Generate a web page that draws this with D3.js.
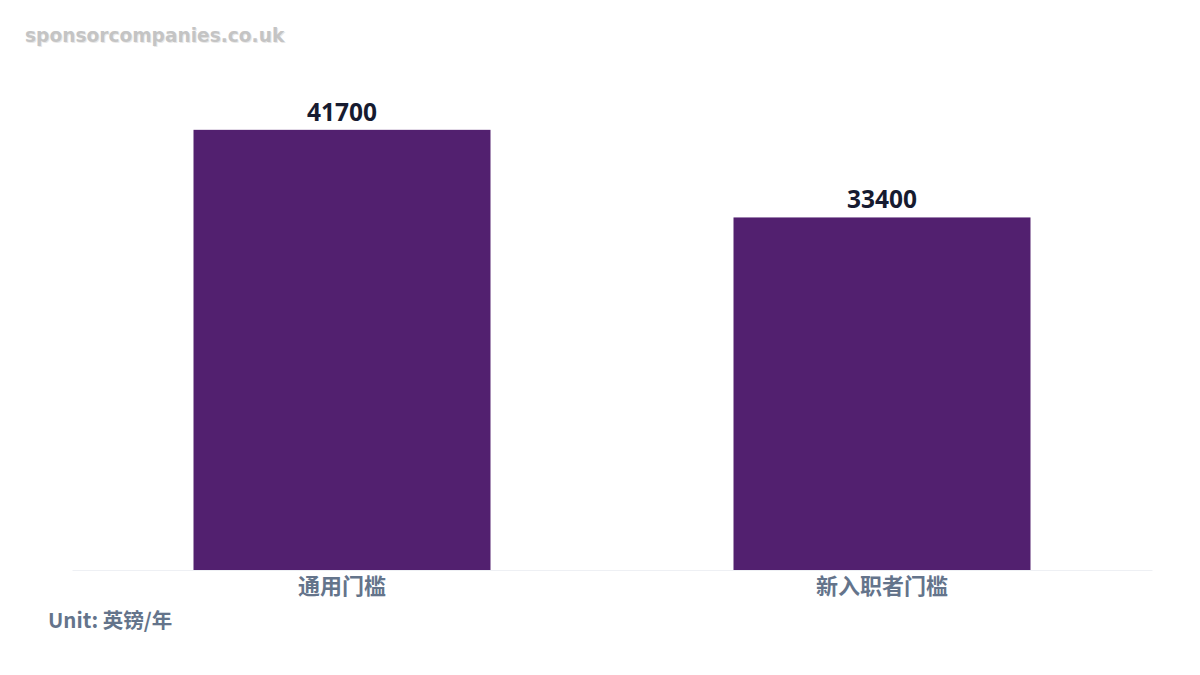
<!DOCTYPE html>
<html>
<head>
<meta charset="utf-8">
<script src="https://cdn.jsdelivr.net/npm/d3@7"></script>
<style>
  body { margin: 0; background: #fff; }
  svg { display: block; }
</style>
</head>
<body>
<div id="chart"></div>
<script>
var categories = ["通用门槛", "新入职者门槛"];
var values = [41700, 33400];
var unitLabel = "Unit: 英镑/年";
var watermark = "sponsorcompanies.co.uk";

function drawChart() {
    var width = 1200, height = 675;
    var margin = {top: 95, right: 48, bottom: 105, left: 72};
    var innerW = width - margin.left - margin.right;
    var innerH = height - margin.top - margin.bottom;

    var svg = d3.select('#chart')
        .append('svg')
        .attr('width', width)
        .attr('height', height);

    // watermark with a soft shadow
    svg.append('text')
        .attr('x', 26).attr('y', 43)
        .attr('font-family', 'DejaVu Sans, sans-serif')
        .attr('font-weight', 'bold')
        .attr('font-size', 18.6)
        .attr('fill', '#e8e8e8')
        .text(watermark);
    svg.append('text')
        .attr('x', 25).attr('y', 42)
        .attr('font-family', 'DejaVu Sans, sans-serif')
        .attr('font-weight', 'bold')
        .attr('font-size', 18.6)
        .attr('fill', '#c4c4c4')
        .text(watermark);

    var g = svg.append('g')
        .attr('transform', 'translate(' + margin.left + ',' + margin.top + ')');

    var x = d3.scaleBand()
        .domain(categories)
        .range([0, innerW])
        .paddingInner(0.45)
        .paddingOuter(0.225);

    var y = d3.scaleLinear()
        .domain([0, 45000])
        .range([innerH, 0]);

    var xAxis = d3.axisBottom(x).tickSize(0).tickPadding(8);

    var ax = g.append('g')
        .attr('class', 'x axis')
        .attr('transform', 'translate(0,' + innerH + ')')
        .call(xAxis);
    ax.select('.domain').attr('stroke', '#eef0f4').attr('stroke-width', 1);
    ax.selectAll('text')
        .attr('font-family', '"Noto Sans CJK SC", "Noto Sans", sans-serif')
        .attr('font-weight', 'bold')
        .attr('font-size', 22)
        .attr('fill', '#64748b');

    g.selectAll('.bar')
        .data(values)
        .enter().append('rect')
        .attr('class', 'bar')
        .attr('x', function(d, i) { return x(categories[i]); })
        .attr('y', function(d) { return y(d); })
        .attr('width', x.bandwidth())
        .attr('height', function(d) { return innerH - y(d); })
        .attr('fill', '#52206f');

    g.selectAll('.val')
        .data(values)
        .enter().append('text')
        .attr('class', 'val')
        .attr('x', function(d, i) { return x(categories[i]) + x.bandwidth() / 2; })
        .attr('y', function(d) { return y(d) - 9; })
        .attr('text-anchor', 'middle')
        .attr('font-family', '"Noto Sans", sans-serif')
        .attr('font-weight', 'bold')
        .attr('font-size', 24.5)
        .attr('fill', '#161b30')
        .text(function(d) { return d; });

    svg.append('text')
        .attr('x', 48).attr('y', 628)
        .attr('font-family', '"Noto Sans CJK SC", "Noto Sans", sans-serif')
        .attr('font-weight', 'bold')
        .attr('font-size', 20.5)
        .attr('fill', '#64748b')
        .text(unitLabel);
}

drawChart();
</script>
</body>
</html>
